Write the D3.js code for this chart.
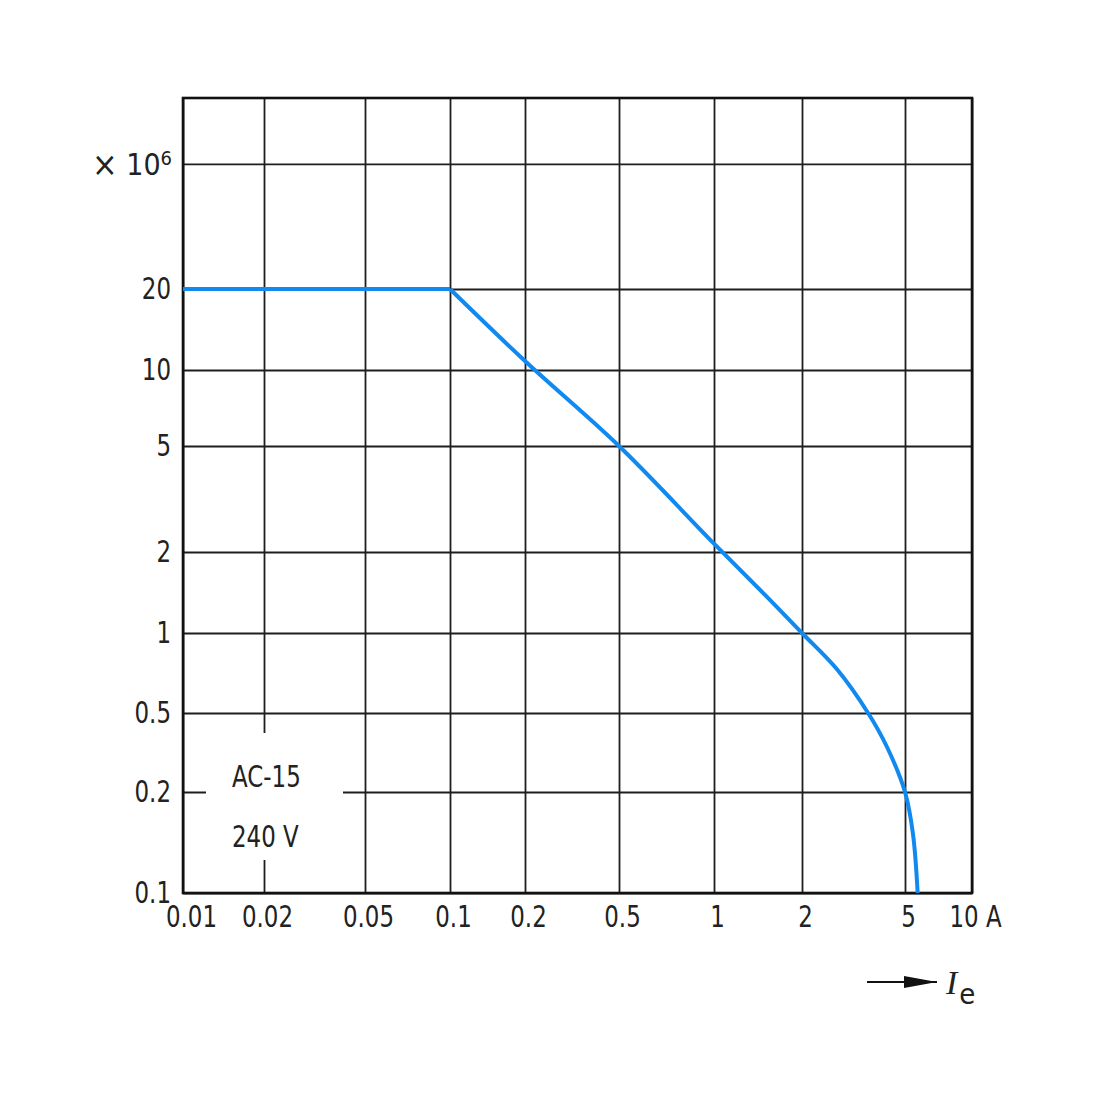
<!DOCTYPE html>
<html>
<head>
<meta charset="utf-8">
<script src="https://cdn.jsdelivr.net/npm/d3@7/dist/d3.min.js"></script>
<style>
  html, body { margin: 0; padding: 0; background: #fff; }
  svg { display: block; }
  text { font-family: "Liberation Sans Narrow", "DejaVu Sans Condensed", "Liberation Sans", sans-serif; fill: #222; }
</style>
</head>
<body>
<svg id="chart" width="1100" height="1100"></svg>
<script>
// ---- data ----
const xTicks = [0.01, 0.02, 0.05, 0.1, 0.2, 0.5, 1, 2, 5, 10];
const xTickLabels = ["0.01", "0.02", "0.05", "0.1", "0.2", "0.5", "1", "2", "5", "10 A"];
const yTicks = [0.1, 0.2, 0.5, 1, 2, 5, 10, 20];
const yTickLabels = ["0.1", "0.2", "0.5", "1", "2", "5", "10", "20"];
const yUnitValue = 60;          // gridline carrying the unit label
const yUnitLabel = "× 10";
const yUnitExp = "6";
const yTopValue = 107;          // value at the top border
// operating current Ie (A) vs. operations (×10^6), AC-15, 240 V
const currentA = [0.01, 0.1, 0.2, 0.5, 1, 1.5, 2, 2.73, 3.6, 4.26, 5, 5.43, 5.7];
const operations = [20, 20, 10.8, 5, 2.15, 1.38, 1, 0.73, 0.5, 0.337, 0.2, 0.15, 0.1];
const noteLines = ["AC-15", "240 V"];

// ---- layout ----
const pL = 183, pR = 972, pT = 98, pB = 893;
// the printed grid is not exactly logarithmic: piecewise-log scale through the printed grid positions
const xGridPx = [183, 264, 365, 450, 525, 619, 714, 802, 905, 972];
const yGridPx = [893, 792, 713, 633, 552, 446, 370, 289, 98];
const fs = 30;
const squeeze = 0.85;
const fontSans = '"Liberation Sans Narrow", "DejaVu Sans Condensed", sans-serif';

const svg = d3.select("#chart");
const x = d3.scaleLog().domain(xTicks).range(xGridPx);
const y = d3.scaleLog().domain(yTicks.concat([yTopValue])).range(yGridPx);

const gridColor = "#1e1e1e";

function narrow(sel) {
  sel.each(function () {
    const w = this.getComputedTextLength();
    d3.select(this).attr("textLength", w * squeeze).attr("lengthAdjust", "spacingAndGlyphs");
  });
}

// vertical gridlines + x labels
const xAxis = d3.axisBottom(x)
  .tickValues(xTicks)
  .tickSize(-(pB - pT))
  .tickPadding(13)
  .tickFormat((d, i) => xTickLabels[i]);
const gx = svg.append("g").attr("transform", `translate(0,${pB})`).call(xAxis);
gx.select(".domain").remove();
gx.selectAll("line").attr("stroke", gridColor).attr("stroke-width", 1.8);
gx.selectAll("text")
  .attr("font-size", fs)
  .attr("dx", (d, i) => i === 0 ? 8 : 3)
  .style("font-family", fontSans)
  .attr("fill", "#222")
  .call(narrow);

// horizontal gridlines + y labels
const yAxis = d3.axisLeft(y)
  .tickValues(yTicks.concat([yUnitValue]))
  .tickSize(-(pR - pL))
  .tickPadding(12)
  .tickFormat((d, i) => i < yTickLabels.length ? yTickLabels[i] : "");
const gy = svg.append("g").attr("transform", `translate(${pL},0)`).call(yAxis);
gy.select(".domain").remove();
gy.selectAll("line").attr("stroke", gridColor).attr("stroke-width", 1.8);
gy.selectAll("text")
  .attr("font-size", fs)
  .style("font-family", fontSans)
  .attr("fill", "#222")
  .call(narrow);

// unit label on the top gridline
const unit = svg.append("text")
  .attr("x", pL - 11)
  .attr("y", y(yUnitValue) + 11)
  .attr("text-anchor", "end")
  .attr("font-size", fs);
unit.append("tspan").attr("font-size", 34).attr("dy", 1).text("×");
unit.append("tspan").attr("dy", -1).text(" 10");
unit.append("tspan").attr("font-size", 20).attr("dy", -10).text(yUnitExp);

// white note box over the grid
svg.append("rect")
  .attr("x", pL + 23).attr("y", 733)
  .attr("width", 137).attr("height", 127)
  .attr("fill", "#fff");
svg.selectAll("text.note").data(noteLines).enter().append("text")
  .attr("class", "note")
  .attr("x", pL + 49)
  .attr("y", (d, i) => 787 + i * 60)
  .attr("font-size", fs)
  .text(d => d)
  .call(narrow);

// plot border
svg.append("rect")
  .attr("x", pL).attr("y", pT)
  .attr("width", pR - pL).attr("height", pB - pT)
  .attr("fill", "none").attr("stroke", "#111").attr("stroke-width", 2.6);

// curve
const pts = currentA.map((c, i) => [c, operations[i]]);
const lineLin = d3.line().x(d => x(d[0])).y(d => y(d[1]));
const lineCurve = d3.line().x(d => x(d[0])).y(d => y(d[1])).curve(d3.curveCatmullRom.alpha(0.5));
const blue = "#1089f0";
svg.append("path")
  .attr("d", lineLin(pts.slice(0, 2)))
  .attr("fill", "none").attr("stroke", blue).attr("stroke-width", 4);
svg.append("path")
  .attr("d", lineCurve(pts.slice(1)))
  .attr("fill", "none").attr("stroke", blue).attr("stroke-width", 4)
  .attr("stroke-linejoin", "round");

// axis quantity arrow  ->  Ie
const ay = 982;
svg.append("defs").append("marker")
  .attr("id", "ah").attr("viewBox", "0 0 33 12")
  .attr("refX", 33).attr("refY", 6)
  .attr("markerWidth", 33).attr("markerHeight", 12)
  .attr("markerUnits", "userSpaceOnUse").attr("orient", "auto")
  .append("path").attr("d", "M0,0 L33,6 L0,12 Z").attr("fill", "#111");
svg.append("line")
  .attr("x1", 867).attr("x2", 937).attr("y1", ay).attr("y2", ay)
  .attr("stroke", "#111").attr("stroke-width", 2).attr("marker-end", "url(#ah)");
const ie = svg.append("text").attr("x", 946).attr("y", 994);
ie.append("tspan")
  .style("font-family", '"Liberation Serif", "DejaVu Serif", serif')
  .attr("font-style", "italic").attr("font-size", 34).text("I");
ie.append("tspan").attr("font-size", 29).attr("dx", 2).attr("dy", 10).text("e");
</script>
</body>
</html>
